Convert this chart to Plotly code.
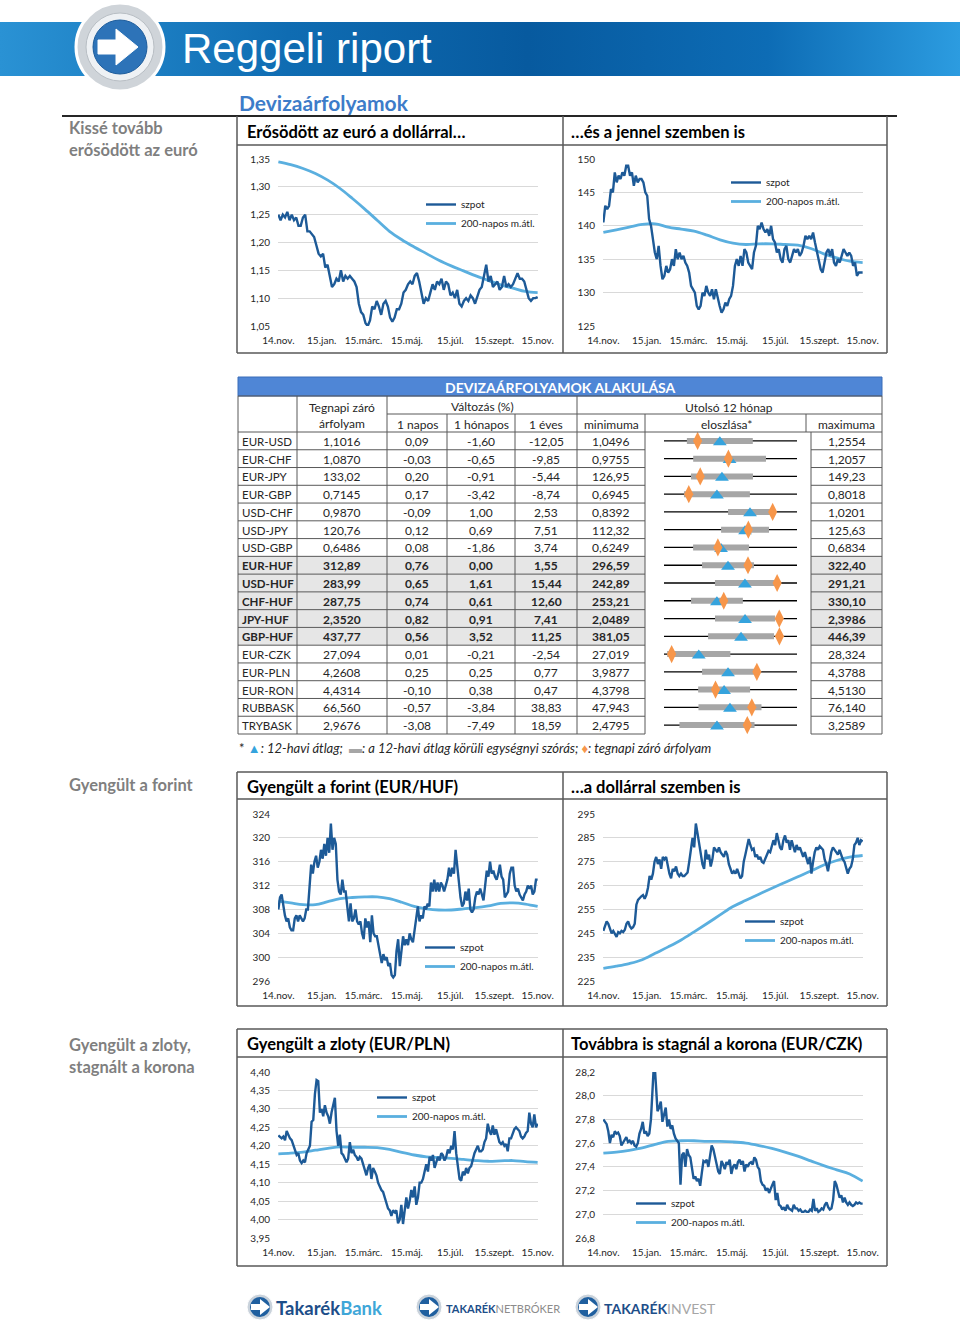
import plotly.graph_objects as go
import pandas as pd

W, H = 960, 1329
FONT = "Lato"

# ---------------- data ----------------
tick_text = ["14.nov.", "15.jan.", "15.márc.", "15.máj.", "15.júl.", "15.szept.", "15.nov."]
tick_dates = ["2014-11-12", "2015-01-12", "2015-03-12", "2015-05-12", "2015-07-12", "2015-09-12", "2015-11-12"]
DATA_START, DATA_END = "2014-11-12", "2015-11-12"

eurusd_spot = [1.25,1.24,1.25,1.245,1.255,1.24,1.25,1.24,1.245,1.23,1.23,1.245,1.25,1.22,1.22,1.215,1.21,1.195,1.18,1.175,
               1.18,1.155,1.16,1.14,1.12,1.125,1.135,1.13,1.15,1.13,1.14,1.135,1.14,1.135,1.13,1.12,1.09,1.075,1.07,1.055,
               1.05,1.06,1.085,1.08,1.095,1.085,1.07,1.09,1.095,1.085,1.065,1.058,1.065,1.08,1.08,1.09,1.11,1.115,1.125,1.13,
               1.125,1.14,1.145,1.13,1.11,1.09,1.1,1.095,1.11,1.125,1.115,1.13,1.125,1.135,1.115,1.13,1.125,1.105,1.11,1.1,
               1.115,1.09,1.085,1.095,1.1,1.095,1.105,1.1,1.09,1.105,1.115,1.12,1.14,1.16,1.13,1.14,1.12,1.125,1.13,1.115,
               1.12,1.14,1.12,1.125,1.12,1.125,1.135,1.145,1.135,1.135,1.13,1.115,1.1,1.095,1.1,1.1,1.102]
eurusd_ma = [1.345,1.340,1.333,1.324,1.312,1.297,1.279,1.260,1.240,1.220,1.205,1.192,1.180,1.168,1.158,1.149,
             1.140,1.132,1.124,1.118,1.112,1.110]

eurjpy_spot = [140.5,143,142.5,143,145.5,145,148,146.5,147.5,147,148,147.5,149,149,147.5,148,146,147.5,146.5,147,
               147,146.5,145,144.5,141,140,138,136,135,137,134,132,132.5,134,133,133.5,135,134,136.5,135,
               136,135,135.5,134.5,134,133,131,130.5,130,128,127.5,128,130,129.5,131,130,129.5,130.5,129,130.5,
               129,128,127,127.5,128.5,128,129,129.5,131,134,135,134,135.5,134,136.5,136,134.5,134,133.5,136,
               137,140,139.5,140.5,139.5,139,139.5,138.5,140,138,137.5,136,136.5,135,134.5,136.5,137,135,134.5,135.5,
               136.5,136,136.5,135.5,136,137,138.5,138,138.5,138,139,137.5,136,135,133.5,133,134.5,136,136.5,135.5,
               136.5,134.5,134,135,134.5,135.5,136.5,136,135.5,136,135.5,134,134.5,132.5,133,133,133]
eurjpy_ma = [139.0,139.4,139.8,140.2,140.3,139.8,139.5,139.2,138.6,137.9,137.4,137.2,137.3,137.3,137.2,137.1,
             136.6,135.8,135.2,134.7,134.5]

eurhuf_spot = [308,310,310.5,308.5,307,306,306.5,305,304.5,304.5,306.5,307,306,307,306.5,306,306.5,308,308,312,
               315.5,314,316,317,315,316,318,316.5,319,317,320,317.5,322.4,318,320,319,313,311,310.5,313,
               311,311,308,306,309,306,306.5,308,306,305.5,306,304,303,306.5,305,306,302.5,307,304,303.5,
               303.5,302,300,299,300.5,299.5,300,298.5,299,297,296.6,297,301,303,298.5,301,303.5,302,303,302,
               304,303,302.5,304.5,306.5,308.5,306,307,306.5,308.5,308,309,308.5,312.5,311,313,311,312.5,311,312.5,
               312,311,312,313,315,313.5,315,314,318,315,312,310,308.5,309,311,309.5,311.5,308,307.5,308,
               310,311,310.5,311.5,310.5,309.5,312,314.5,313.5,316,314,314.5,313.5,313,314,315.5,313.5,313,310,310.5,
               311,314,315,315,312,311,311.5,310.5,310,309.5,310.5,311,312,311.5,312,310.5,311,313,313]
eurhuf_ma = [309.4,309.1,308.8,308.8,309.3,309.8,310.0,310.1,310.1,309.8,309.2,308.5,308.1,307.9,307.9,308.1,
             308.3,308.6,309.0,309.1,308.9,308.5]

usdhuf_spot = [246,248,250,249,247,245,246,244.5,243.5,245.5,245,246,245.5,246.5,249,250,248,247,247.5,249,
               257,259,260,260.5,261,259.5,261,264,269,267.5,270,275,277,274,276,272,277,276,277,273,
               270,268,272,271,273,270,269,270,269,269,270,270.5,275,280,285,281,291,287,283,278,
               274,272,280,276,278,273,276,281,280,279,281,279,278,277,279.5,278,274,272,270,271,
               270,272,270,268,269,275,278,281,284.5,282,280,280.5,277,278,276,277,275,274.5,276,278,
               279.5,279,282,284,282,287,284,281,280,284,286,283,284,280,284,281,279,282,280,281,
               279,277,279,276,274,277,270,275,279,281,280,281.5,280.5,280,276,274,271,276,279,281,
               280,279,278,280,278,276,275,272,270,272,273,276,282,283,285,282,284,283.5]
usdhuf_ma = [230.3,231.2,232.3,233.9,236.6,239.3,242.2,245.6,249.1,252.7,256.2,258.8,261.4,263.9,266.3,268.7,
             271.1,273.6,275.5,276.9,277.6]

eurpln_spot = [4.228,4.225,4.22,4.225,4.215,4.24,4.23,4.22,4.215,4.2,4.185,4.175,4.18,4.16,4.153,4.16,4.155,4.18,4.19,4.2,
               4.265,4.27,4.34,4.378,4.375,4.29,4.3,4.28,4.31,4.29,4.28,4.26,4.29,4.315,4.33,4.24,4.2,4.23,4.18,4.175,
               4.165,4.155,4.165,4.21,4.18,4.19,4.175,4.17,4.16,4.17,4.165,4.15,4.13,4.12,4.14,4.15,4.11,4.14,4.13,4.12,
               4.1,4.09,4.08,4.075,4.06,4.05,4.03,4.025,4.01,4.025,4.02,4.025,3.99,4.0,4.04,3.988,4.02,4.06,4.03,4.05,
               4.08,4.06,4.09,4.04,4.06,4.1,4.1,4.11,4.13,4.15,4.13,4.17,4.16,4.175,4.14,4.155,4.17,4.16,4.18,4.175,
               4.16,4.17,4.19,4.18,4.2,4.19,4.24,4.18,4.14,4.11,4.105,4.13,4.12,4.14,4.125,4.14,4.145,4.165,4.18,4.19,
               4.2,4.185,4.185,4.19,4.21,4.22,4.26,4.24,4.23,4.255,4.23,4.245,4.23,4.21,4.205,4.21,4.2,4.205,4.185,4.22,
               4.22,4.23,4.245,4.25,4.245,4.24,4.225,4.22,4.225,4.235,4.24,4.29,4.26,4.25,4.285,4.25,4.26]
eurpln_ma = [4.178,4.180,4.183,4.188,4.193,4.197,4.196,4.196,4.195,4.190,4.182,4.175,4.170,4.168,4.166,4.163,
             4.160,4.158,4.159,4.160,4.157,4.155]

eurczk_spot = [27.8,27.78,27.76,27.7,27.6,27.67,27.65,27.7,27.68,27.69,27.66,27.58,27.6,27.63,27.65,27.61,27.62,27.6,27.62,27.58,
               27.57,27.6,27.68,27.72,27.78,27.68,27.7,27.66,27.68,27.8,28.15,28.32,28.1,27.87,27.9,27.95,27.78,27.85,27.9,27.74,
               27.8,27.72,27.75,27.68,27.64,27.62,27.6,27.25,27.5,27.52,27.4,27.55,27.5,27.48,27.4,27.3,27.32,27.28,27.3,27.24,
               27.35,27.45,27.44,27.46,27.4,27.5,27.58,27.55,27.48,27.4,27.36,27.34,27.45,27.42,27.38,27.44,27.42,27.46,27.34,27.4,
               27.42,27.38,27.44,27.46,27.42,27.45,27.36,27.42,27.4,27.43,27.44,27.42,27.48,27.46,27.4,27.38,27.28,27.25,27.24,27.2,
               27.22,27.18,27.22,27.25,27.28,27.12,27.18,27.08,27.07,27.04,27.06,27.03,27.08,27.05,27.04,27.03,27.08,27.05,27.05,27.03,
               27.04,27.02,27.02,27.03,27.02,27.02,27.04,27.03,27.13,27.03,27.05,27.02,27.03,27.05,27.04,27.08,27.1,27.06,27.04,27.05,
               27.12,27.28,27.25,27.2,27.14,27.16,27.1,27.14,27.1,27.08,27.1,27.08,27.07,27.08,27.1,27.09,27.1,27.09,27.09]
eurczk_ma = [27.515,27.525,27.54,27.56,27.59,27.615,27.62,27.62,27.615,27.615,27.61,27.6,27.58,27.555,27.525,27.49,
             27.45,27.41,27.375,27.34,27.28]

# table
pairs = ["EUR-USD","EUR-CHF","EUR-JPY","EUR-GBP","USD-CHF","USD-JPY","USD-GBP","EUR-HUF","USD-HUF","CHF-HUF",
         "JPY-HUF","GBP-HUF","EUR-CZK","EUR-PLN","EUR-RON","RUBBASK","TRYBASK"]
close_rate = ["1,1016","1,0870","133,02","0,7145","0,9870","120,76","0,6486","312,89","283,99","287,75",
              "2,3520","437,77","27,094","4,2608","4,4314","66,560","2,9676"]
chg_1d = ["0,09","-0,03","0,20","0,17","-0,09","0,12","0,08","0,76","0,65","0,74","0,82","0,56","0,01","0,25","-0,10","-0,57","-3,08"]
chg_1m = ["-1,60","-0,65","-0,91","-3,42","1,00","0,69","-1,86","0,00","1,61","0,61","0,91","3,52","-0,21","0,25","0,38","-3,84","-7,49"]
chg_1y = ["-12,05","-9,85","-5,44","-8,74","2,53","7,51","3,74","1,55","15,44","12,60","7,41","11,25","-2,54","0,77","0,47","38,83","18,59"]
min_12m = ["1,0496","0,9755","126,95","0,6945","0,8392","112,32","0,6249","296,59","242,89","253,21",
           "2,0489","381,05","27,019","3,9877","4,3798","47,943","2,4795"]
max_12m = ["1,2554","1,2057","149,23","0,8018","1,0201","125,63","0,6834","322,40","291,21","330,10",
           "2,3986","446,39","28,324","4,3788","4,5130","76,140","3,2589"]
mean_12m = [1.136,1.089,136.66,0.7372,0.9562,120.43,0.6500,309.01,272.3,283.8,2.262,418.9,27.36,4.176,4.440,61.93,2.790]
std_12m = [0.051,0.063,5.19,0.0266,0.0299,2.40,0.0123,5.04,10.9,15.0,0.079,16.2,0.31,0.0764,0.026,6.68,0.22]
bold_pairs = {"EUR-HUF","USD-HUF","CHF-HUF","JPY-HUF","GBP-HUF"}

# ---------------- styling ----------------
SPOT = "#1d5a97"
MAC = "#5aafdf"
GRID = "#d9d9d9"
BORDER = "#595959"
TXT = "#262626"


def num(s):
    return float(s.replace(",", "."))


fig = go.Figure()
shapes = []
annots = []


def dom_x(a, b):
    return [a / W, b / W]


def dom_y(top, bottom):
    return [1 - bottom / H, 1 - top / H]


def seg(x0, y0, x1, y1, color=BORDER, width=1):
    shapes.append(dict(type="line", xref="x8", yref="y8", x0=x0, y0=y0, x1=x1, y1=y1,
                       line=dict(color=color, width=width)))


def rect(x0, y0, x1, y1, fill, line_color=None, lw=0, layer="above"):
    shapes.append(dict(type="rect", xref="x8", yref="y8", x0=x0, y0=y0, x1=x1, y1=y1,
                       fillcolor=fill, line=dict(color=line_color or fill, width=lw), layer=layer))


def text(x, y, t, size=12, color=TXT, anchor="left", family=FONT):
    annots.append(dict(xref="x8", yref="y8", x=x, y=y, text=t, showarrow=False, xanchor=anchor,
                       yanchor="middle", font=dict(family=family, size=size, color=color)))


# ---------------- charts ----------------
col_plot = [(278, 538), (603, 863)]
row_plot = [(159, 326), (814, 981), (1072, 1238)]
panels = [
    dict(spot=eurusd_spot, ma=eurusd_ma, c=0, r=0, yr=(1.05, 1.35), dt=0.05, fmt=".2f", leg=(433, 205)),
    dict(spot=eurjpy_spot, ma=eurjpy_ma, c=1, r=0, yr=(125, 150), dt=5, fmt="d", leg=(738, 183)),
    dict(spot=eurhuf_spot, ma=eurhuf_ma, c=0, r=1, yr=(296, 324), dt=4, fmt="d", leg=(432, 948)),
    dict(spot=usdhuf_spot, ma=usdhuf_ma, c=1, r=1, yr=(225, 295), dt=10, fmt="d", leg=(752, 922)),
    dict(spot=eurpln_spot, ma=eurpln_ma, c=0, r=2, yr=(3.95, 4.40), dt=0.05, fmt=".2f", leg=(384, 1098)),
    dict(spot=eurczk_spot, ma=eurczk_ma, c=1, r=2, yr=(26.8, 28.2), dt=0.2, fmt=".1f", leg=(643, 1204)),
]

layout_axes = {}
for i, p in enumerate(panels, start=1):
    sfx = "" if i == 1 else str(i)
    leg = "legend" + sfx
    xs = pd.date_range(DATA_START, DATA_END, periods=len(p["spot"]))
    xm = pd.date_range(DATA_START, DATA_END, periods=len(p["ma"]))
    fig.add_trace(go.Scatter(x=xm, y=p["ma"], mode="lines", name="200-napos m.átl.",
                             line=dict(color=MAC, width=2.8, shape="spline"),
                             xaxis="x" + sfx, yaxis="y" + sfx, legend=leg, hoverinfo="skip"))
    fig.add_trace(go.Scatter(x=xs, y=p["spot"], mode="lines", name="szpot",
                             line=dict(color=SPOT, width=2.4),
                             xaxis="x" + sfx, yaxis="y" + sfx, legend=leg, hoverinfo="skip"))
    x0, x1 = col_plot[p["c"]]
    yt, yb = row_plot[p["r"]]
    lo, hi = p["yr"]
    eps = (hi - lo) * 1e-6
    layout_axes["xaxis" + sfx] = dict(domain=dom_x(x0, x1), anchor="y" + sfx, type="date",
                                      range=["2014-11-11 12:00", "2015-11-12 12:00"],
                                      tickmode="array", tickvals=tick_dates, ticktext=tick_text,
                                      showgrid=False, zeroline=False, showline=False, ticks="",
                                      ticklabelstandoff=7, automargin=False,
                                      tickfont=dict(family=FONT, size=10, color=TXT), fixedrange=True)
    layout_axes["yaxis" + sfx] = dict(domain=dom_y(yt, yb), anchor="x" + sfx, range=[lo - eps, hi + eps],
                                      tick0=lo, dtick=p["dt"], tickformat=p["fmt"], showgrid=True,
                                      gridcolor=GRID, gridwidth=1, zeroline=False, showline=False, ticks="",
                                      ticklabelstandoff=7, automargin=False,
                                      tickfont=dict(family=FONT, size=10, color=TXT), fixedrange=True)
    lx, ly = p["leg"]
    layout_axes[leg] = dict(x=(lx - 12) / W, y=1 - (ly - 15) / H, xanchor="left", yanchor="top",
                            bgcolor="rgba(0,0,0,0)", borderwidth=0, traceorder="reversed",
                            font=dict(family=FONT, size=10, color=TXT), itemwidth=30, tracegroupgap=0)

# ---------------- table distribution (axis 7) ----------------
n = len(pairs)
tab_top, tab_bot = 432, 734
rh = (tab_bot - tab_top) / n
lx_, ly_, bx, by, tx, ty, dx, dy = [], [], [], [], [], [], [], []
for i in range(n):
    lo, hi = num(min_12m[i]), num(max_12m[i])
    f = lambda v: (v - lo) / (hi - lo)
    lx_ += [0, 1, None]; ly_ += [i, i, None]
    bx += [f(mean_12m[i] - std_12m[i]), f(mean_12m[i] + std_12m[i]), None]; by += [i, i, None]
    tx.append(f(mean_12m[i])); ty.append(i + 0.08)
    dx.append(f(num(close_rate[i]))); dy.append(i)

fig.add_trace(go.Scatter(x=lx_, y=ly_, mode="lines", line=dict(color="#000000", width=1.3),
                         xaxis="x7", yaxis="y7", showlegend=False, hoverinfo="skip"))
fig.add_trace(go.Scatter(x=bx, y=by, mode="lines", line=dict(color="#a6a6a6", width=6),
                         xaxis="x7", yaxis="y7", showlegend=False, hoverinfo="skip"))
fig.add_trace(go.Scatter(x=tx, y=ty, mode="markers", marker=dict(symbol="triangle-up", size=12, color="#35a3dd"),
                         xaxis="x7", yaxis="y7", showlegend=False, hoverinfo="skip", cliponaxis=False))
fig.add_trace(go.Scatter(x=dx, y=dy, mode="markers", marker=dict(symbol="diamond-tall", size=13, color="#f7964a"),
                         xaxis="x7", yaxis="y7", showlegend=False, hoverinfo="skip", cliponaxis=False))
layout_axes["xaxis7"] = dict(domain=dom_x(664, 797), anchor="y7", range=[0, 1], visible=False, fixedrange=True)
layout_axes["yaxis7"] = dict(domain=dom_y(tab_top, tab_bot), anchor="x7", range=[n - 0.5, -0.5],
                             visible=False, fixedrange=True)

# ---------------- canvas (axis 8) ----------------
layout_axes["xaxis8"] = dict(domain=[0, 1], anchor="y8", range=[0, W], visible=False, fixedrange=True)
layout_axes["yaxis8"] = dict(domain=[0, 1], anchor="x8", range=[H, 0], visible=False, fixedrange=True)

# header band with gradient
fig.add_trace(go.Scatter(x=[0, W, W, 0, 0], y=[22, 22, 76, 76, 22], mode="lines", fill="toself",
                         line=dict(width=0, color="rgba(0,0,0,0)"),
                         fillgradient=dict(type="horizontal",
                                           colorscale=[[0, "#2a92d4"], [0.3, "#0f6cb2"], [0.55, "#075a9f"],
                                                       [0.8, "#0d6cb5"], [1, "#2c9ce0"]]),
                         xaxis="x8", yaxis="y8", showlegend=False, hoverinfo="skip"))

# header logo
shapes.append(dict(type="circle", xref="x8", yref="y8", x0=76, y0=3, x1=164, y1=91,
                   fillcolor="#cfd4d9", line=dict(color="#ffffff", width=3)))
shapes.append(dict(type="circle", xref="x8", yref="y8", x0=86, y0=13, x1=154, y1=81,
                   fillcolor="#eef1f4", line=dict(color="#b8bec4", width=1)))
shapes.append(dict(type="circle", xref="x8", yref="y8", x0=93, y0=20, x1=147, y1=74,
                   fillcolor="#2d73b8", line=dict(color="#1c5c9c", width=1)))
shapes.append(dict(type="path", xref="x8", yref="y8",
                   path="M 98,40 L 116,40 L 116,29 L 138,47 L 116,65 L 116,54 L 98,54 Z",
                   fillcolor="#ffffff", line=dict(color="#ffffff", width=1)))
text(180, 48, "Reggeli riport", size=42, color="#ffffff", family="Liberation Sans")

# section heading
text(237, 102, "<b>Devizaárfolyamok</b>", size=21, color="#3d7cc9")
# left side labels
GRAY = "#7f7f7f"
for (yy, t) in [(128, "Kissé tovább"), (150, "erősödött az euró"), (785, "Gyengült a forint"),
                (1045, "Gyengült a zloty,"), (1067, "stagnált a korona")]:
    text(67, yy, "<b>" + t + "</b>", size=16.5, color=GRAY)

# chart boxes
seg(62, 116, 897, 116, color="#262626", width=2)
box_rows = [(116, 145, 353), (772, 799, 1006), (1029, 1057, 1266)]
titles = [("Erősödött az euró a dollárral…", "…és a jennel szemben is"),
          ("Gyengült a forint (EUR/HUF)", "…a dollárral szemben is"),
          ("Gyengült a zloty (EUR/PLN)", "Továbbra is stagnál a korona (EUR/CZK)")]
for (top, mid, bot), (t1, t2) in zip(box_rows, titles):
    if top != 116:
        seg(237, top, 887, top, color=BORDER, width=1.5)
    seg(237, mid, 887, mid, color=BORDER, width=1.5)
    seg(237, bot, 887, bot, color=BORDER, width=1.5)
    for xv in (237, 563, 887):
        seg(xv, top, xv, bot, color=BORDER, width=1.5)
    text(245, (top + mid) / 2 + 1, "<b>" + t1 + "</b>", size=16.5, color="#000000")
    text(569, (top + mid) / 2 + 1, "<b>" + t2 + "</b>", size=16.5, color="#000000")

# ---------------- table ----------------
rect(238, 377, 882, 396, fill="#4f86d6", line_color="#3a6cb8", lw=1)
text(560, 387, "<b>DEVIZAÁRFOLYAMOK ALAKULÁSA</b>", size=14, color="#ffffff", anchor="center")

for i in range(n):
    if pairs[i] in bold_pairs:
        y0 = tab_top + i * rh
        rect(238, y0, 645, y0 + rh, fill="#e6e6e6", layer="below")
        rect(811, y0, 882, y0 + rh, fill="#e6e6e6", layer="below")

# header lines
seg(238, 396, 882, 396)
seg(387, 414, 882, 414)
seg(238, tab_top, 882, tab_top)
for xv in (238, 297, 387, 577, 882):
    seg(xv, 396, xv, tab_bot)
for xv in (447, 515, 645):
    seg(xv, 414, xv, tab_bot)
seg(806, 414, 806, tab_top)
seg(811, tab_top, 811, tab_bot)
for k in range(1, n + 1):
    yk = tab_top + k * rh
    seg(238, yk, 645, yk)
    seg(811, yk, 882, yk)

# header text
text(342, 407, "Tegnapi záró", anchor="center")
text(342, 423, "árfolyam", anchor="center")
text(482, 406, "Változás (%)", anchor="center")
text(729, 407, "Utolsó 12 hónap", anchor="center")
for cx, t in [(417, "1 napos"), (481, "1 hónapos"), (546, "1 éves"), (611, "minimuma"),
              (726, "eloszlása*"), (846, "maximuma")]:
    text(cx, 424, t, anchor="center")

centers = [342, 417, 481, 546, 611]
for i in range(n):
    yc = tab_top + (i + 0.5) * rh + 0.5
    b = pairs[i] in bold_pairs
    wrap = (lambda s: "<b>" + s + "</b>") if b else (lambda s: s)
    text(240, yc, wrap(pairs[i]), size=11.5)
    for cx, val in zip(centers, [close_rate[i], chg_1d[i], chg_1m[i], chg_1y[i], min_12m[i]]):
        text(cx, yc, wrap(val), anchor="center")
    text(846.5, yc, wrap(max_12m[i]), anchor="center")

text(237, 748, "* <span style='color:#35a3dd'>▲</span><i>: 12-havi átlag;  </i>"
               "<span style='color:#a6a6a6'>▬</span><i>: a 12-havi átlag körüli egységnyi szórás; </i>"
               "<span style='color:#f7964a'>♦</span><i>: tegnapi záró árfolyam</i>", size=13)

# ---------------- footer logos ----------------
for cx in (260, 429, 588):
    shapes.append(dict(type="circle", xref="x8", yref="y8", x0=cx - 13, y0=1294, x1=cx + 13, y1=1320,
                       fillcolor="#c9d2db", line=dict(color="#ffffff", width=1)))
    shapes.append(dict(type="circle", xref="x8", yref="y8", x0=cx - 10, y0=1297, x1=cx + 10, y1=1317,
                       fillcolor="#1f5f9f", line=dict(width=0)))
    shapes.append(dict(type="path", xref="x8", yref="y8",
                       path=f"M {cx-9},{1304} L {cx},{1304} L {cx},{1299} L {cx+10},{1307} L {cx},{1315} L {cx},{1310} L {cx-9},{1310} Z",
                       fillcolor="#ffffff", line=dict(width=0)))
text(274, 1308, "<b><span style='color:#1d4e89'>Takarék</span><span style='color:#3ea6d8'>Bank</span></b>", size=18.5)
text(444, 1308, "<b><span style='color:#1d4e89'>TAKARÉK</span></b><span style='color:#8c8c8c'>NETBRÓKER</span>", size=11)
text(602, 1308, "<b><span style='color:#1d4e89'>TAKARÉK</span></b><span style='color:#a6a6a6'>INVEST</span>", size=14)

fig.update_layout(width=W, height=H, margin=dict(l=0, r=0, t=0, b=0, pad=0, autoexpand=False), autosize=False,
                  paper_bgcolor="#ffffff", plot_bgcolor="rgba(0,0,0,0)", separators=", ",
                  showlegend=True, shapes=shapes, annotations=annots,
                  font=dict(family=FONT, size=12, color=TXT), **layout_axes)

fig.write_html("out.html", config={"displayModeBar": False})
